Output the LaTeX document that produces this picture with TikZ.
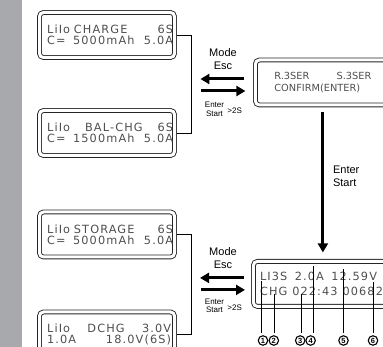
\documentclass[tikz,border=0pt]{standalone}
\usepackage{fontspec}
\setmainfont{Liberation Sans}
\newfontfamily\lcdfont[LetterSpace=10]{DejaVu Sans}
\newfontfamily\lcdthin{DejaVu Sans}
\usepackage{xcolor}
\definecolor{sidegray}{RGB}{167,169,172}
\definecolor{lcdgray}{RGB}{78,78,78}
\usepackage{tikz}
\usetikzlibrary{arrows.meta, positioning, calc}
\newcommand{\lcdrow}[3]{\hspace*{#1}\makebox[#2][s]{#3}}
\tikzset{
  lcdbox/.style={
    rectangle, rounded corners=4pt,
    draw=black!85, double, double distance=3pt, line width=0.9pt,
    minimum height=45pt, text width=135pt, inner xsep=0pt, inner ysep=0pt,
    outer sep=0pt, align=left, text=lcdgray
  },
  widefont/.style={font=\fontsize{11.3}{11}\lcdfont},
  statfont/.style={font=\fontsize{11.3}{15}\lcdfont},
  thinfont/.style={font=\fontsize{9.8}{11.5}\lcdthin},
  keylabel/.style={align=center, inner sep=1pt, font=\fontsize{11}{13}\selectfont},
  keysmall/.style={align=center, inner sep=0.5pt, font=\fontsize{8}{8.6}\selectfont},
  fatarrow/.style={line width=3pt, -{Triangle[length=9pt,width=10pt]}},
  bracket/.style={line width=0.9pt},
  pointer/.style={line width=0.6pt},
  marker/.style={circle, draw, line width=1.1pt, inner sep=0pt, minimum size=9.5pt,
    font=\fontsize{7.5}{8}\selectfont\bfseries},
}

\begin{document}
\begin{tikzpicture}[x=1pt, y=1pt]

  \useasboundingbox (0,0) rectangle (383,-347);
  \clip (0,0) rectangle (383,-347);

  % --- Side bar ---
  \fill[sidegray] (0,0) rectangle (22,-347);

  % --- Left column: program screens ---
  \node (charge) [lcdbox, widefont] at (107,-35)
        {\lcdrow{7.6pt}{126pt}{LiIo CHARGE\hfill 6S}\\
         \lcdrow{7.6pt}{126pt}{C=\ \ 5000mAh\hfill 5.0A}};
  \node (balchg) [lcdbox, widefont, below=53pt of charge]
        {\lcdrow{7.6pt}{126pt}{LiIo\hfill BAL-CHG\hfill 6S}\\
         \lcdrow{7.6pt}{126pt}{C=\ \ 1500mAh\hfill 5.0A}};
  \node (storage) [lcdbox, widefont, below=56.5pt of balchg]
        {\lcdrow{7.6pt}{126pt}{LiIo STORAGE\hfill 6S}\\
         \lcdrow{7.6pt}{126pt}{C=\ \ 5000mAh\hfill 5.0A}};
  \node (dchg) [lcdbox, widefont, below=55pt of storage]
        {\lcdrow{7.6pt}{124pt}{LiIo\hfill DCHG\hfill 3.0V}\\
         \lcdrow{7.6pt}{124pt}{1.0A\hfill 18.0V(6S)}};

  % --- Right column: confirm and running screens ---
  \node (confirm) [lcdbox, thinfont] at (322.9,-82.5)
        {\lcdrow{19pt}{97pt}{R.3SER\hfill S.3SER}\\
         \hspace*{19pt}CONFIRM(ENTER)};
  \node (status) [lcdbox, statfont, below=156.4pt of confirm, xshift=-2pt]
        {\lcdrow{6.6pt}{117pt}{LI3S\hfill 2.0A\hfill 12.59V}\\
         \lcdrow{6.6pt}{123pt}{CHG\hfill 022:43\hfill 00682}};

  % --- Brackets ---
  \draw[bracket] ([xshift=2.4pt]charge.east) -- ++(14.6,0) |- ([xshift=2.4pt]balchg.east);
  \draw[bracket] ([xshift=2.4pt]storage.east) -- ++(14.6,0) |- ([xshift=2.4pt]dchg.east);

  % --- Key arrows ---
  \draw[fatarrow] ([shift={(-11pt,3.5pt)}]confirm.west) -- ([shift={(-55pt,3.5pt)}]confirm.west);
  \draw[fatarrow] ([shift={(-54pt,-8.5pt)}]confirm.west) -- ([shift={(-10pt,-8.5pt)}]confirm.west);
  \draw[fatarrow] ([shift={(-9.4pt,6pt)}]status.west) -- ([shift={(-53.4pt,6pt)}]status.west);
  \draw[fatarrow] ([shift={(-52.4pt,-6pt)}]status.west) -- ([shift={(-8.4pt,-6pt)}]status.west);
  \draw[fatarrow] ([yshift=-7pt]confirm.south) -- ($(confirm.south |- status.north)+(0,9pt)$);

  % --- Key labels ---
  \node (mode1) [keylabel] at ([shift={(-32.4pt,23.5pt)}]confirm.west) {Mode\\Esc};
  \node (enter1) [keysmall] at ([shift={(-40.9pt,-26.5pt)}]confirm.west) {Enter\\Start};
  \node (hold1) [keysmall, right=2pt of enter1, yshift=-1.5pt] {>2S};
  \node (mode2) [keylabel] at ([shift={(-30.4pt,25.9pt)}]status.west) {Mode\\Esc};
  \node (enter2) [keysmall] at ([shift={(-38.9pt,-22pt)}]status.west) {Enter\\Start};
  \node (hold2) [keysmall, right=2pt of enter2, yshift=-2pt] {>2S};
  \node (enter3) [keylabel, anchor=west, align=left]
        at ($(confirm.south)!0.5!(status.north)+(10pt,7pt)$) {Enter\\Start};

  % --- Field markers ---
  \coordinate (t1) at (261,-281);
  \coordinate (t2) at (274,-294);
  \coordinate (t3) at (301,-294);
  \coordinate (t4) at (313,-266);
  \coordinate (t5) at (343,-269);
  \coordinate (t6) at (373,-282);
  \node (n1) [marker] at (263,-340.5) {1};
  \node (n2) [marker] at (273.8,-340.5) {2};
  \node (n3) [marker] at (300.2,-340.5) {3};
  \node (n4) [marker] at (310.6,-340.5) {4};
  \node (n5) [marker] at (343.5,-340.5) {5};
  \node (n6) [marker] at (373,-340.5) {6};
  \draw[pointer] (t1) -- ([yshift=2pt]t1 |- n1.north);
  \draw[pointer] (t2) -- ([yshift=2pt]t2 |- n2.north);
  \draw[pointer] (t3) -- ([yshift=2pt]t3 |- n3.north);
  \draw[pointer] (t4) -- ([yshift=2pt]t4 |- n4.north);
  \draw[pointer] (t5) -- ([yshift=2pt]t5 |- n5.north);
  \draw[pointer] (t6) -- ([yshift=2pt]t6 |- n6.north);

\end{tikzpicture}
\end{document}
